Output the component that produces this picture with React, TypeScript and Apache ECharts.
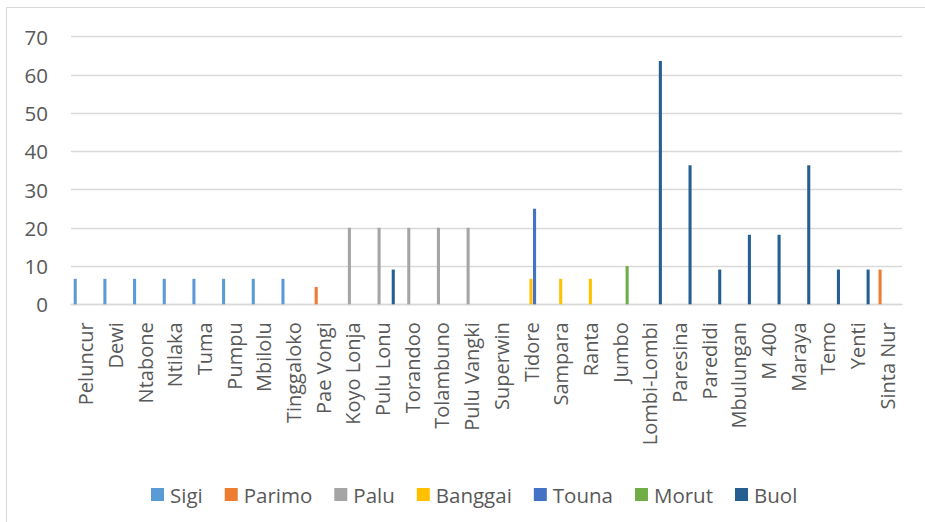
import React, { useEffect, useRef } from "react";
import * as echarts from "echarts";

const categories = [
  "Peluncur", "Dewi", "Ntabone", "Ntilaka", "Tuma", "Pumpu", "Mbilolu", "Tinggaloko",
  "Pae Vongi", "Koyo Lonja", "Pulu Lonu", "Torandoo", "Tolambuno", "Pulu Vangki",
  "Superwin", "Tidore", "Sampara", "Ranta", "Jumbo", "Lombi-Lombi", "Paresina",
  "Paredidi", "Mbulungan", "M 400", "Maraya", "Temo", "Yenti", "Sinta Nur",
];

const _ = null;
const sigi = [6.67, 6.67, 6.67, 6.67, 6.67, 6.67, 6.67, 6.67, _, _, _, _, _, _, _, _, _, _, _, _, _, _, _, _, _, _, _, _];
const parimo = [_, _, _, _, _, _, _, _, 4.55, _, _, _, _, _, _, _, _, _, _, _, _, _, _, _, _, _, _, 9.09];
const palu = [_, _, _, _, _, _, _, _, _, 20, 20, 20, 20, 20, _, _, _, _, _, _, _, _, _, _, _, _, _, _];
const banggai = [_, _, _, _, _, _, _, _, _, _, _, _, _, _, _, 6.67, 6.67, 6.67, _, _, _, _, _, _, _, _, _, _];
const touna = [_, _, _, _, _, _, _, _, _, _, _, _, _, _, _, 25, _, _, _, _, _, _, _, _, _, _, _, _];
const morut = [_, _, _, _, _, _, _, _, _, _, _, _, _, _, _, _, _, _, 10, _, _, _, _, _, _, _, _, _];
const buol = [_, _, _, _, _, _, _, _, _, _, 9.09, _, _, _, _, _, _, _, _, 63.64, 36.36, 9.09, 18.18, 18.18, 36.36, 9.09, 9.09, _];

const seriesNames = ["Sigi", "Parimo", "Palu", "Banggai", "Touna", "Morut", "Buol"];
const seriesData = [sigi, parimo, palu, banggai, touna, morut, buol];
const seriesColors = ["#5B9BD5", "#ED7D31", "#A5A5A5", "#FFC000", "#4472C4", "#70AD47", "#255E91"];

const FONT = "'Open Sans', sans-serif";
const TEXT = "#595959";

export default function App() {
  const ref = useRef<HTMLDivElement>(null);
  useEffect(() => {
    if (!ref.current) return;
    const chart = echarts.init(ref.current, undefined, { renderer: "svg" });
    chart.setOption({
      animation: false,
      backgroundColor: "#ffffff",
      textStyle: { fontFamily: FONT },
      graphic: [
        {
          type: "rect",
          shape: { x: 6.5, y: 7.5, width: 940, height: 540 },
          style: { fill: "none", stroke: "#d9d9d9", lineWidth: 1 },
          silent: true,
          z: -1,
        },
      ],
      grid: { left: 71, right: 23, top: 36.7, bottom: 217.7, containLabel: false },
      legend: {
        left: 146,
        top: 479,
        itemWidth: 13,
        itemHeight: 13,
        itemGap: 22,
        icon: "rect",
        data: seriesNames,
        textStyle: { color: TEXT, fontSize: 20.5, fontFamily: FONT, padding: [0, 0, 0, 1] },
      },
      xAxis: {
        type: "category",
        data: categories,
        axisLine: { show: true, lineStyle: { color: "#d9d9d9", width: 1.3 } },
        axisTick: { show: false },
        axisLabel: {
          rotate: 90,
          interval: 0,
          margin: 18,
          color: TEXT,
          fontSize: 20,
          fontFamily: FONT,
        },
      },
      yAxis: {
        type: "value",
        min: 0,
        max: 70,
        interval: 10,
        axisLine: { show: false },
        axisTick: { show: false },
        splitLine: { lineStyle: { color: "#d9d9d9", width: 1.3 } },
        axisLabel: { margin: 23, color: TEXT, fontSize: 20.5, fontFamily: FONT },
      },
      series: seriesNames.map((name, i) => ({
        name,
        type: "bar",
        data: seriesData[i],
        barGap: "15%",
        barCategoryGap: "18%",
        itemStyle: { color: seriesColors[i] },
      })),
    });
    return () => chart.dispose();
  }, []);
  return (
    <div
      ref={ref}
      style={{ position: "fixed", left: 0, top: 0, width: 925, height: 522 }}
    />
  );
}
